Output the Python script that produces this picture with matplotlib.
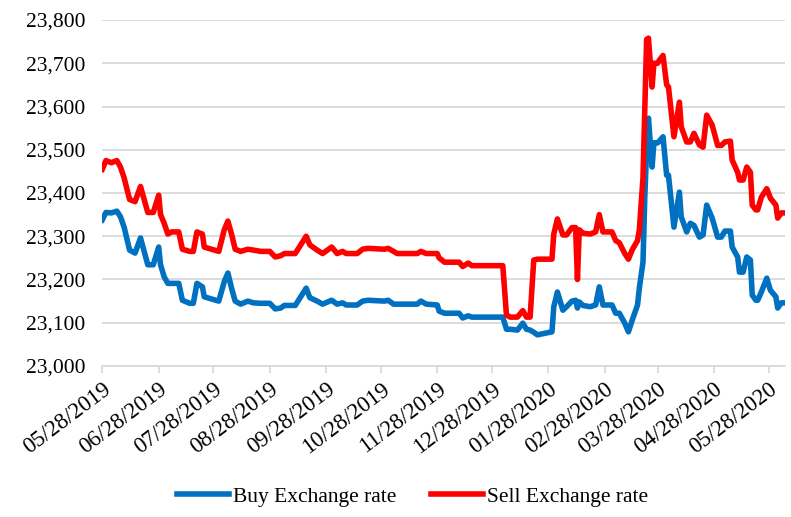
import matplotlib
matplotlib.use("Agg")
import matplotlib.pyplot as plt
import matplotlib.dates as mdates
import matplotlib.ticker as mticker
import pandas as pd

plt.rcParams['font.family'] = ['Liberation Serif', 'DejaVu Serif']

dates = ['2019-05-28', '2019-05-30', '2019-06-02', '2019-06-05', '2019-06-07',
         '2019-06-09', '2019-06-12', '2019-06-15', '2019-06-18', '2019-06-22',
         '2019-06-25', '2019-06-28', '2019-06-29', '2019-07-01', '2019-07-03',
         '2019-07-05', '2019-07-09', '2019-07-11', '2019-07-15', '2019-07-17',
         '2019-07-19', '2019-07-22', '2019-07-23', '2019-07-27', '2019-07-31',
         '2019-08-03', '2019-08-05', '2019-08-07', '2019-08-09', '2019-08-12',
         '2019-08-16', '2019-08-19', '2019-08-23', '2019-08-28', '2019-08-31',
         '2019-09-03', '2019-09-05', '2019-09-11', '2019-09-14', '2019-09-17',
         '2019-09-19', '2019-09-23', '2019-09-26', '2019-10-01', '2019-10-04',
         '2019-10-07', '2019-10-09', '2019-10-15', '2019-10-18', '2019-10-21',
         '2019-10-30', '2019-11-01', '2019-11-04', '2019-11-06', '2019-11-17',
         '2019-11-19', '2019-11-22', '2019-11-28', '2019-11-29', '2019-12-02',
         '2019-12-10', '2019-12-12', '2019-12-15', '2019-12-17', '2020-01-03',
         '2020-01-05', '2020-01-07', '2020-01-11', '2020-01-14', '2020-01-16',
         '2020-01-18', '2020-01-20', '2020-01-22', '2020-01-30', '2020-01-31',
         '2020-02-02', '2020-02-05', '2020-02-07', '2020-02-10', '2020-02-12',
         '2020-02-13', '2020-02-14', '2020-02-16', '2020-02-20', '2020-02-23',
         '2020-02-25', '2020-02-27', '2020-03-03', '2020-03-05', '2020-03-07',
         '2020-03-10', '2020-03-12', '2020-03-14', '2020-03-17', '2020-03-18',
         '2020-03-20', '2020-03-21', '2020-03-22', '2020-03-23', '2020-03-25',
         '2020-03-26', '2020-03-28', '2020-03-29', '2020-03-31', '2020-04-02',
         '2020-04-03', '2020-04-06', '2020-04-09', '2020-04-10', '2020-04-13',
         '2020-04-15', '2020-04-17', '2020-04-20', '2020-04-22', '2020-04-24',
         '2020-04-27', '2020-04-30', '2020-05-02', '2020-05-04', '2020-05-07',
         '2020-05-08', '2020-05-11', '2020-05-12', '2020-05-14', '2020-05-16',
         '2020-05-18', '2020-05-19', '2020-05-21', '2020-05-22', '2020-05-24',
         '2020-05-27', '2020-05-29', '2020-06-01', '2020-06-02', '2020-06-04',
         '2020-06-06']

sell = [23455, 23475, 23470, 23475, 23460, 23435, 23385, 23380, 23415, 23355,
        23355, 23395, 23350, 23330, 23305, 23310, 23310, 23270, 23265, 23265,
        23310, 23305, 23275, 23270, 23265, 23315, 23335, 23305, 23270, 23265,
        23270, 23268, 23265, 23265, 23252, 23255, 23260, 23260, 23280, 23300,
        23280, 23268, 23260, 23275, 23260, 23265, 23260, 23260, 23270, 23272,
        23270, 23272, 23265, 23260, 23260, 23265, 23260, 23260, 23250, 23240,
        23240, 23230, 23238, 23232, 23232, 23118, 23113, 23113, 23128, 23113,
        23113, 23245, 23247, 23247, 23305, 23340, 23303, 23303, 23320, 23320,
        23200, 23315, 23307, 23305, 23310, 23350, 23310, 23310, 23290, 23285,
        23260, 23247, 23268, 23290, 23315, 23435, 23600, 23755, 23758, 23645,
        23700, 23700, 23707, 23718, 23650, 23645, 23530, 23610, 23553, 23518,
        23518, 23538, 23511, 23506, 23580, 23557, 23510, 23510, 23518, 23520,
        23476, 23448, 23430, 23430, 23460, 23448, 23372, 23361, 23361, 23390,
        23410, 23388, 23372, 23342, 23354, 23354]

buy = [23338, 23355, 23354, 23358, 23345, 23321, 23268, 23261, 23296, 23234,
       23234, 23275, 23234, 23206, 23191, 23191, 23191, 23152, 23145, 23145,
       23191, 23183, 23160, 23155, 23150, 23195, 23215, 23180, 23150, 23143,
       23150, 23146, 23145, 23145, 23132, 23134, 23140, 23140, 23160, 23180,
       23158, 23150, 23143, 23152, 23143, 23146, 23141, 23141, 23150, 23152,
       23150, 23152, 23143, 23143, 23143, 23150, 23143, 23141, 23127, 23122,
       23122, 23111, 23116, 23113, 23113, 23085, 23085, 23083, 23099, 23085,
       23083, 23078, 23072, 23079, 23137, 23171, 23129, 23137, 23150, 23152,
       23134, 23148, 23140, 23137, 23141, 23183, 23141, 23141, 23122, 23122,
       23099, 23079, 23105, 23141, 23180, 23240, 23391, 23500, 23573, 23460,
       23516, 23516, 23520, 23530, 23441, 23441, 23321, 23402, 23345, 23310,
       23330, 23325, 23298, 23303, 23372, 23342, 23298, 23298, 23312, 23312,
       23275, 23252, 23217, 23217, 23252, 23245, 23164, 23152, 23152, 23171,
       23203, 23175, 23160, 23134, 23146, 23146]

x = pd.to_datetime(dates)
tick_dates = pd.date_range('2019-05-28', '2020-05-28', freq=pd.DateOffset(months=1))

fig = plt.figure(figsize=(7.91, 5.17), dpi=100)
ax = fig.add_axes([0.1293, 0.2921, 0.8631, 0.6692])

ax.plot(x, buy, color='#0070C0', lw=4, solid_joinstyle='round', label='Buy Exchange rate')
ax.plot(x, sell, color='#FF0000', lw=4, solid_joinstyle='round', label='Sell Exchange rate')

ax.set_ylim(23000, 23800)
ax.set_xlim(x[0], x[-1])
ax.yaxis.set_major_locator(mticker.MultipleLocator(100))
ax.yaxis.set_major_formatter(mticker.FuncFormatter(lambda v, p: f'{int(v):,}'))
ax.grid(axis='y', color='#d9d9d9', lw=1.3)
ax.set_axisbelow(True)

ax.set_xticks(tick_dates)
ax.xaxis.set_major_formatter(mdates.DateFormatter('%m/%d/%Y'))
plt.setp(ax.get_xticklabels(), rotation=37, ha='right', rotation_mode='anchor')

for s in ['top', 'right', 'left']:
    ax.spines[s].set_visible(False)
ax.spines['bottom'].set_color('#d9d9d9')
ax.spines['bottom'].set_linewidth(1.3)
ax.tick_params(axis='y', length=0, pad=12, labelsize=15.5)
ax.tick_params(axis='x', length=5, width=1.3, color='#d9d9d9', pad=4, labelsize=16.5)

fig.legend(loc='center', bbox_to_anchor=(0.522, 0.039), ncol=2, frameon=False,
           fontsize=15.5, handlelength=2.4, handletextpad=0.2, columnspacing=1.6)

fig.savefig('out.png', dpi=100)
